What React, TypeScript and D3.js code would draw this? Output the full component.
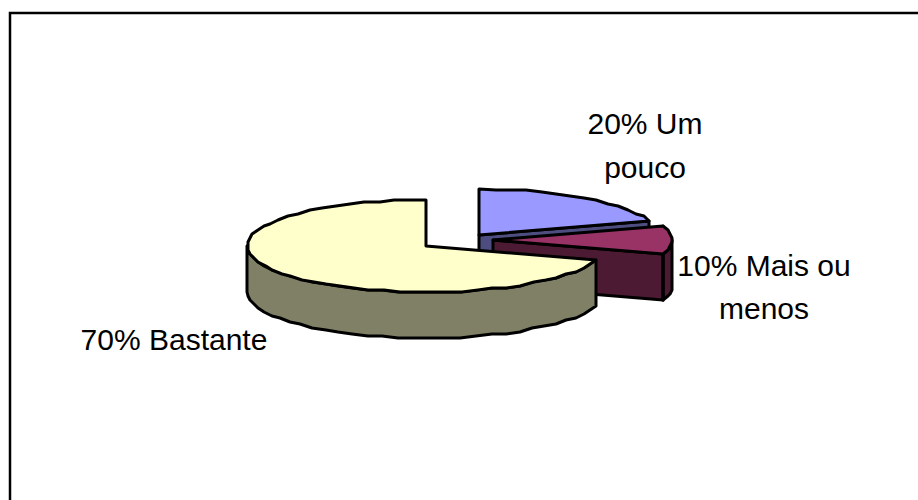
import React from "react";
import * as d3 from "d3";

// Share of answers for each response category
const categories = ["Bastante", "Um pouco", "Mais ou menos"];
const shares = [70, 20, 10];
const topColors = ["#ffffcc", "#9999ff", "#993366"];
const wallColors = ["#808066", "#4d4d80", "#4d1a33"];

const labelLines: string[][] = [
  ["70% Bastante"],
  ["20% Um", "pouco"],
  ["10% Mais ou", "menos"],
];
const labelAnchors = [
  { x: 174, y: 350, lead: 0 },
  { x: 645, y: 134, lead: 44 },
  { x: 764, y: 276, lead: 43 },
];

const W = 918;
const H = 500;
const RX = 179;
const RY = 46;
const DEPTH = 46;

// Apex of every wedge on the top plane; the two smaller wedges are pulled out
const apexes: [number, number][] = [
  [426, 246],
  [479, 235],
  [493, 240],
];

// Wedges run clockwise from 12 o'clock: Um pouco, Mais ou menos, then Bastante
const pie = d3
  .pie<number>()
  .sort(null)
  .value((d) => d);
const order = [1, 2, 0];
const arcs = pie(order.map((i) => shares[i]));

const toX = d3.scaleLinear().domain([-1, 1]).range([-RX, RX]);
const toY = d3.scaleLinear().domain([-1, 1]).range([-RY, RY]);

const snap = (v: number, grid: number) => Math.round(v / grid) * grid;

// Chord-stepped rim, snapped to a coarse grid for the stepped outline
function rim(a0: number, a1: number, cx: number, cy: number): [number, number][] {
  const n = Math.max(2, Math.round((a1 - a0) / (Math.PI / 36)));
  return d3.range(n + 1).map((k) => {
    const a = a0 + ((a1 - a0) * k) / n;
    const inner = k > 0 && k < n;
    return [
      snap(cx + toX(Math.sin(a)), inner ? 2 : 1),
      snap(cy + toY(-Math.cos(a)), inner ? 2 : 1),
    ] as [number, number];
  });
}

const path = d3.line<[number, number]>().curve(d3.curveLinear);
const closed = (pts: [number, number][]) => path(pts) + "Z";

function Wedge({ index, arc }: { index: number; arc: d3.PieArcDatum<number> }) {
  const [cx, cy] = apexes[index];
  const { startAngle: s, endAngle: e } = arc;
  const top = rim(s, e, cx, cy);
  const drop = (p: [number, number]): [number, number] => [p[0], p[1] + DEPTH];
  const apex: [number, number] = [cx, cy];

  // Only the part of the rim facing the viewer has a visible outer wall
  const visibleStart = Math.max(s, Math.PI / 2);
  const visibleEnd = Math.min(e, (3 * Math.PI) / 2);
  const frontRim = visibleEnd > visibleStart ? rim(visibleStart, visibleEnd, cx, cy) : [];
  const leadEdge = top[top.length - 1];
  const startEdge = top[0];

  const walls: string[] = [];
  if (frontRim.length) {
    walls.push(closed([...frontRim, ...frontRim.slice().reverse().map(drop)]));
  }
  // Cut faces that turn toward the viewer
  if (index === 1) walls.push(closed([apex, leadEdge, drop(leadEdge), drop(apex)]));
  if (index === 2) {
    walls.push(closed([apex, leadEdge, drop(leadEdge), drop(apex)]));
    walls.push(closed([startEdge, leadEdge, drop(leadEdge), drop(startEdge)]));
  }

  return (
    <g stroke="#000" strokeWidth={3} strokeLinejoin="round">
      {walls.map((d, i) => (
        <path key={i} d={d} fill={wallColors[index]} />
      ))}
      <path d={closed([apex, ...top])} fill={topColors[index]} />
    </g>
  );
}

export default function App() {
  return (
    <svg
      width={W}
      height={H}
      viewBox={`0 0 ${W} ${H}`}
      style={{ position: "absolute", left: 0, top: 0, display: "block", background: "#fff" }}
      role="img"
      aria-label={categories.join(", ")}
    >
      <path d={`M10 ${H}V13H${W}`} fill="none" stroke="#000" strokeWidth={2.5} />
      <Wedge index={1} arc={arcs[0]} />
      <Wedge index={2} arc={arcs[1]} />
      <Wedge index={0} arc={arcs[2]} />
      {labelLines.map((lines, i) =>
        lines.map((t, k) => (
          <text
            key={t}
            x={labelAnchors[i].x}
            y={labelAnchors[i].y + k * labelAnchors[i].lead}
            textAnchor="middle"
            fontFamily="'Liberation Sans', Arial, sans-serif"
            fontSize={30}
            fill="#000"
          >
            {t}
          </text>
        ))
      )}
    </svg>
  );
}
